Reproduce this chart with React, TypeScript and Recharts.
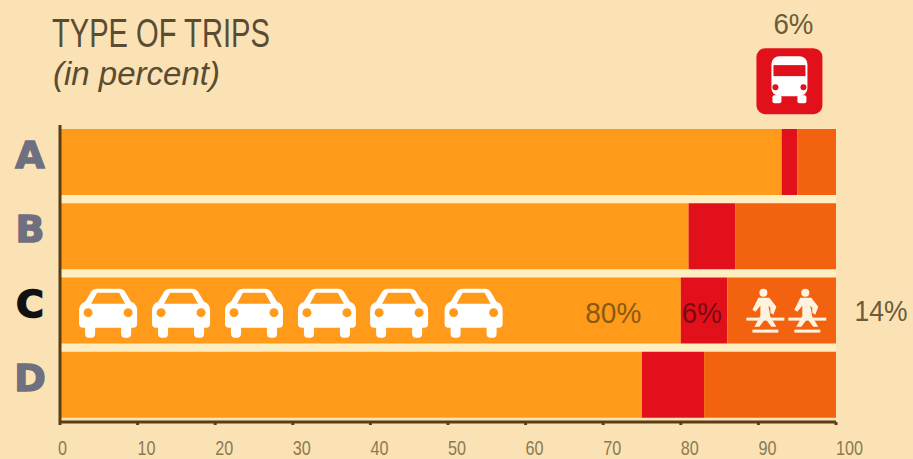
import { BarChart, Bar, XAxis, YAxis, ReferenceArea, ReferenceDot } from "recharts";

const categories = ["A", "B", "C", "D"];
const carShare = [93, 81, 80, 75];
const busShare = [2, 6, 6, 8];
const walkShare = [5, 13, 14, 17];
const xTicks = [0, 10, 20, 30, 40, 50, 60, 70, 80, 90, 100];
const carIconSpots = [6.2, 15.6, 25, 34.4, 43.7, 53.3];
const walkerIconSpots = [90.9, 96.3];

const chartData = categories.map((name, i) => ({
  name,
  car: carShare[i],
  bus: busShare[i],
  walk: walkShare[i],
}));

const FONT = '"Liberation Sans", sans-serif';
const PAPER = "#FBE2B4";
const ORANGE = "#FF9A1A";
const RED = "#E2101A";
const DARK_ORANGE = "#F2620F";
const AXIS = "#5A3D14";
const TEXT = "#6B5B3A";

function CategoryTick({ x, y, payload }: any) {
  const color = payload.value === "C" ? "#111111" : "#6E7080";
  return (
    <text
      x={x - 29}
      y={y + 6}
      dx={7}
      textAnchor="middle"
      fontFamily="DejaVu Sans"
      fontWeight="bold"
      fontSize={38}
      fill={color}
      stroke={color}
      strokeWidth={1.5}
    >
      {payload.value}
    </text>
  );
}

function ValueTick({ x, y, payload }: any) {
  const label = String(payload.value);
  return (
    <text
      x={x - (payload.value === 0 ? 2 : 0)}
      y={y + 28}
      textAnchor="start"
      fontFamily={FONT}
      fontSize={21}
      fill="#8A7A50"
      textLength={label.length * 9}
      lengthAdjust="spacingAndGlyphs"
    >
      {label}
    </text>
  );
}

function CarIcon({ cx, cy }: any) {
  return (
    <g transform={`translate(${cx},${cy})`}>
      <path
        d="M-29 0 Q-29 -7 -23 -9 L-17 -19 Q-15 -22 -11 -22 L11 -22 Q15 -22 17 -19 L23 -9 Q29 -7 29 0 L29 13 Q29 17 25 17 L23 17 L23 23 Q23 27 19 27 L17 27 Q13 27 13 23 L13 17 L-13 17 L-13 23 Q-13 27 -17 27 L-19 27 Q-23 27 -23 23 L-23 17 L-25 17 Q-29 17 -29 13 Z"
        fill="#FFFFFF"
      />
      <path d="M-17 -7 L-11 -18 L11 -18 L17 -7 Z" fill={ORANGE} />
      <circle cx={-20} cy={2} r={4.5} fill={ORANGE} />
      <circle cx={20} cy={2} r={4.5} fill={ORANGE} />
    </g>
  );
}

function WalkerIcon({ cx, cy }: any) {
  return (
    <g transform={`translate(${cx},${cy})`} fill="#FFF3E0">
      <circle cx={-2} cy={-18} r={4} />
      <path d="M-7 -13 L4 -13 L11 -4 L8 4 L5 2 L5 -3 L3 -5 L5 6 L11 16 L6 16 L0 8 L-6 16 L-11 16 L-5 5 L-5 -5 L-10 1 L-13 -1 Z" />
      <rect x={-19} y={7} width={38} height={3} />
      <rect x={-13} y={19} width={26} height={3} />
    </g>
  );
}

// bus badge sits above the A bar, hung off the scale position of that row
function BusBadge({ cx, cy }: any) {
  const top = cy - 114;
  return (
    <g transform={`translate(${cx},${top})`}>
      <rect x={-33} y={0} width={66} height={66} rx={9} fill={RED} />
      <rect x={-18} y={8} width={36} height={40} rx={8} fill="#FFFFFF" />
      <rect x={-17} y={47} width={9} height={8} rx={2} fill="#FFFFFF" />
      <rect x={8} y={47} width={9} height={8} rx={2} fill="#FFFFFF" />
      <rect x={-16} y={17} width={32} height={11} fill={RED} />
      <circle cx={-14} cy={39} r={3} fill={RED} />
      <circle cx={14} cy={39} r={3} fill={RED} />
    </g>
  );
}

function PercentText({ cx, cy, text, color, dx = 0, dy = 0, length }: any) {
  return (
    <text
      x={cx + dx}
      y={cy + dy}
      textAnchor="middle"
      fontFamily={FONT}
      fontSize={29}
      fill={color}
      textLength={length}
      lengthAdjust="spacingAndGlyphs"
    >
      {text}
    </text>
  );
}

// only the strips between the rows show the lighter tone
function GapStrip({ x, y, width, height }: any) {
  return <rect x={x} y={y + 4} width={width} height={height - 8} fill="#FFEEC2" />;
}

export default function App() {
  return (
    <div style={{ position: "absolute", left: 0, top: 0, width: 913, height: 459, background: PAPER, overflow: "hidden" }}>
      <div
        style={{
          position: "absolute",
          left: 52,
          top: 13,
          fontFamily: FONT,
          fontSize: 41,
          lineHeight: "41px",
          color: "#5A4C33",
          whiteSpace: "nowrap",
          transform: "scaleX(0.71)",
          transformOrigin: "left top",
        }}
      >
        TYPE OF TRIPS
      </div>
      <div
        style={{
          position: "absolute",
          left: 53,
          top: 57,
          fontFamily: FONT,
          fontStyle: "italic",
          fontSize: 33,
          lineHeight: "33px",
          color: "#5A4C33",
          whiteSpace: "nowrap",
        }}
      >
        (in percent)
      </div>
      <BarChart
        width={913}
        height={459}
        data={chartData}
        layout="vertical"
        barCategoryGap={4}
        margin={{ top: 125, right: 77, bottom: 0, left: 0 }}
        style={{ position: "absolute", left: 0, top: 0 }}
      >
        <XAxis
          type="number"
          domain={[0, 100]}
          ticks={xTicks}
          interval={0}
          height={37}
          stroke={AXIS}
          strokeWidth={3}
          tickSize={3}
          tick={<ValueTick />}
        />
        <YAxis
          type="category"
          dataKey="name"
          width={60}
          stroke={AXIS}
          strokeWidth={3}
          tickLine={false}
          tick={<CategoryTick />}
        />
        <ReferenceArea x1={0} x2={100} y1="A" y2="D" shape={<GapStrip />} />
        <Bar dataKey="car" stackId="trip" fill={ORANGE} isAnimationActive={false} />
        <Bar dataKey="bus" stackId="trip" fill={RED} isAnimationActive={false} />
        <Bar dataKey="walk" stackId="trip" fill={DARK_ORANGE} isAnimationActive={false} />
        {carIconSpots.map((v) => (
          <ReferenceDot key={v} x={v} y="C" shape={<CarIcon />} />
        ))}
        {walkerIconSpots.map((v) => (
          <ReferenceDot key={v} x={v} y="C" shape={<WalkerIcon />} />
        ))}
        <ReferenceDot x={71.3} y="C" shape={<PercentText text="80%" color="#8A5A10" dy={12} length={56} />} />
        <ReferenceDot x={82.7} y="C" shape={<PercentText text="6%" color="#7A0A10" dy={12} length={40} />} />
        <ReferenceDot x={100} y="C" ifOverflow="visible" shape={<PercentText text="14%" color={TEXT} dx={45} dy={10} length={53} />} />
        <ReferenceDot x={94} y="A" shape={<BusBadge />} />
        <ReferenceDot x={94} y="A" shape={<PercentText text="6%" color={TEXT} dx={4} dy={-128} length={40} />} />
      </BarChart>
    </div>
  );
}
